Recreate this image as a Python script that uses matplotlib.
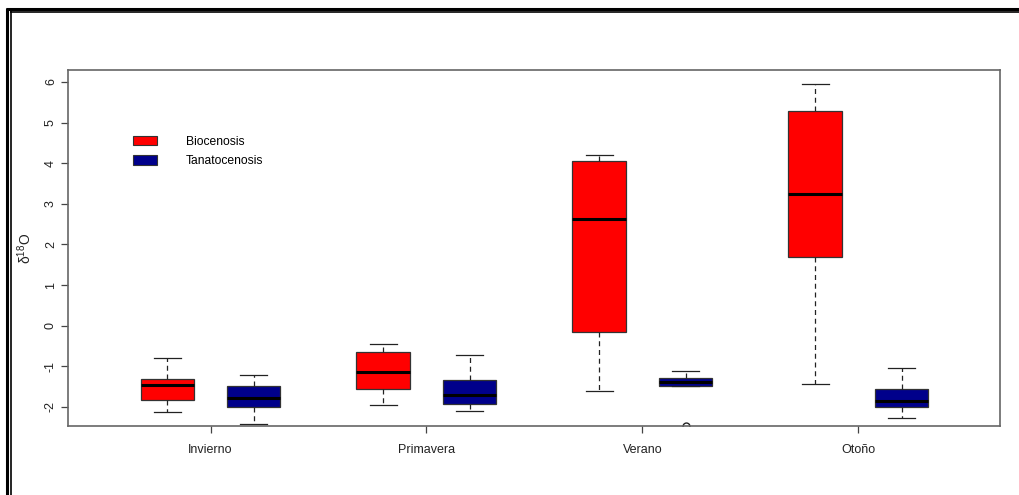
import matplotlib
matplotlib.use("Agg")
import matplotlib.pyplot as plt
from matplotlib.patches import Patch
from matplotlib.lines import Line2D

plt.rcParams['font.family'] = ['Liberation Sans', 'DejaVu Sans']
plt.rcParams['mathtext.default'] = 'regular'

# Estaciones y grupos
seasons = ['Invierno', 'Primavera', 'Verano', 'Otoño']
groups = ['Biocenosis', 'Tanatocenosis']
colors = ['#FF0000', '#00008B']

# Estadísticos de caja para d18O, por estación (Biocenosis, Tanatocenosis)
whislo = [[-2.12, -2.43], [-1.95, -2.11], [-1.61, -1.49], [-1.43, -2.28]]
q1 = [[-1.83, -2.01], [-1.55, -1.93], [-0.15, -1.49], [1.69, -2.01]]
med = [[-1.47, -1.78], [-1.14, -1.70], [2.62, -1.39], [3.24, -1.85]]
q3 = [[-1.32, -1.49], [-0.65, -1.34], [4.06, -1.28], [5.29, -1.56]]
whishi = [[-0.80, -1.22], [-0.46, -0.72], [4.20, -1.11], [5.95, -1.03]]
fliers = [[[], []], [[], []], [[], [-2.46]], [[], []]]

positions = [1, 2, 3.5, 4.5, 6, 7, 8.5, 9.5]
tick_pos = [1.5, 4, 6.5, 9]

fig = plt.figure(figsize=(10.2, 4.95), dpi=100)
ax = fig.add_axes([68 / 1020, 1 - 426 / 495, 932 / 1020, 356 / 495])

stats = []
box_colors = []
for i in range(len(seasons)):
    for j in range(len(groups)):
        stats.append(dict(whislo=whislo[i][j], q1=q1[i][j], med=med[i][j],
                          q3=q3[i][j], whishi=whishi[i][j], fliers=fliers[i][j]))
        box_colors.append(colors[j])

bp = ax.bxp(stats, positions=positions, widths=0.62, capwidths=0.31,
            patch_artist=True, showfliers=True,
            boxprops=dict(edgecolor='#333333', linewidth=0.9),
            medianprops=dict(color='black', linewidth=2.2),
            whiskerprops=dict(color='#222222', linestyle=(0, (4, 3)), linewidth=0.9),
            capprops=dict(color='#222222', linewidth=0.9),
            flierprops=dict(marker='o', markerfacecolor='none',
                            markeredgecolor='#222222', markersize=5))
for patch, c in zip(bp['boxes'], box_colors):
    patch.set_facecolor(c)

ax.set_xlim(-0.15, 10.64)
ax.set_ylim(-2.47, 6.295)
ax.set_xticks(tick_pos)
ax.set_xticklabels(seasons, fontsize=9, color='#222222')
ax.set_yticks(range(-2, 7))
ax.set_yticklabels([str(v) for v in range(-2, 7)], rotation=90, va='center',
                   fontsize=9, color='#222222')
ax.tick_params(axis='both', length=5, width=0.9, color='#444444')
ax.tick_params(axis='x', pad=8)
ax.tick_params(axis='y', pad=3)
for s in ax.spines.values():
    s.set_color('#666666')
    s.set_linewidth(1.2)

ax.set_ylabel(r'$\delta^{18}O$', fontsize=10, color='#222222', labelpad=8)

handles = [Patch(facecolor=c, edgecolor='#333333', linewidth=0.8) for c in colors]
ax.legend(handles, groups, loc='upper left', bbox_to_anchor=(0.058, 0.845),
          frameon=False, fontsize=8.7, handlelength=2.0, handleheight=0.8,
          handletextpad=2.4, labelspacing=0.6)

# marco doble del documento
W, H = 1020, 495
def px_line(x0, y0, x1, y1, lw):
    fig.add_artist(Line2D([x0 / W, x1 / W], [1 - y0 / H, 1 - y1 / H],
                          transform=fig.transFigure, color='black',
                          linewidth=lw, solid_capstyle='butt'))

px_line(6, 9, W, 9, 2.2)
px_line(10, 12, W, 12, 1.2)
px_line(7, 8, 7, H, 2.2)
px_line(11, 11, 11, H, 1.2)

fig.savefig('out.png', dpi=100)
